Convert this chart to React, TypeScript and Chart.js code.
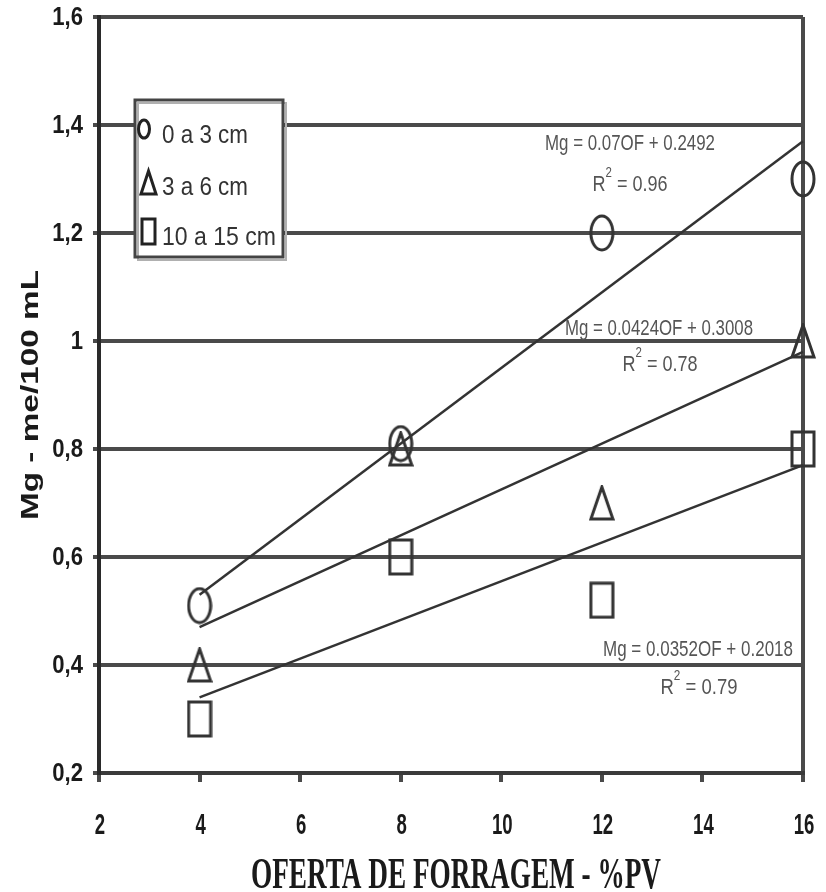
import React, { useEffect, useRef } from "react";
import { Chart, registerables } from "chart.js";

Chart.register(...registerables);

// ---- data ----
const xValues = [4, 8, 12, 16];
const series0to3 = [0.51, 0.81, 1.2, 1.3];
const series3to6 = [0.4, 0.8, 0.7, 1.0];
const series10to15 = [0.3, 0.6, 0.52, 0.8];

const trendX = [4, 16];
const trend0to3 = [0.53, 1.37];
const trend3to6 = [0.47, 0.98];
const trend10to15 = [0.34, 0.77];

const seriesLabels = ["0 a 3 cm", "3 a 6 cm", "10 a 15 cm"];
const equations = ["Mg = 0.07OF + 0.2492", "Mg = 0.0424OF + 0.3008", "Mg = 0.0352OF + 0.2018"];
const r2Values = ["0.96", "0.78", "0.79"];

const xTicks = [2, 4, 6, 8, 10, 12, 14, 16];
const xTickLabels = ["2", "4", "6", "8", "10", "12", "14", "16"];
const yTicks = [0.2, 0.4, 0.6, 0.8, 1.0, 1.2, 1.4, 1.6];
const yTickLabels = ["0,2", "0,4", "0,6", "0,8", "1", "1,2", "1,4", "1,6"];

const xTitle = "OFERTA DE FORRAGEM - %PV";
const yTitle = "Mg - me/100 mL";

// ---- helpers ----
function makeMarker(kind: string, w: number, h: number, lw: number) {
  const c = document.createElement("canvas");
  c.width = w;
  c.height = h;
  const g = c.getContext("2d")!;
  g.strokeStyle = "#333";
  g.lineWidth = lw;
  g.beginPath();
  if (kind === "circle") {
    g.ellipse(w / 2, h / 2, w / 2 - lw / 2 - 0.5, h / 2 - lw / 2 - 0.5, 0, 0, Math.PI * 2);
  } else if (kind === "triangle") {
    g.moveTo(w / 2, lw / 2 + 0.5);
    g.lineTo(w - lw / 2 - 0.5, h - lw / 2 - 0.5);
    g.lineTo(lw / 2 + 0.5, h - lw / 2 - 0.5);
    g.closePath();
  } else {
    g.rect(lw / 2 + 0.5, lw / 2 + 0.5, w - lw - 1, h - lw - 1);
  }
  g.stroke();
  return c;
}

function drawText(
  ctx: CanvasRenderingContext2D,
  text: string,
  x: number,
  y: number,
  font: string,
  color: string,
  align: CanvasTextAlign,
  baseline: CanvasTextBaseline,
  targetWidth?: number,
  scaleX?: number
) {
  ctx.save();
  ctx.font = font;
  ctx.fillStyle = color;
  ctx.textAlign = align;
  ctx.textBaseline = baseline;
  const w = ctx.measureText(text).width;
  const sx = targetWidth ? targetWidth / w : scaleX || 1;
  ctx.translate(x, y);
  ctx.scale(sx, 1);
  ctx.fillText(text, 0, 0);
  ctx.restore();
}

function drawR2(ctx: CanvasRenderingContext2D, value: string, cx: number, baseY: number, targetWidth: number) {
  ctx.save();
  const mainFont = "22px 'Liberation Sans', Arial, sans-serif";
  const supFont = "14px 'Liberation Sans', Arial, sans-serif";
  ctx.font = mainFont;
  const wR = ctx.measureText("R").width;
  const rest = " = " + value;
  const wRest = ctx.measureText(rest).width;
  ctx.font = supFont;
  const wS = ctx.measureText("2").width;
  const total = wR + wS + wRest;
  const sx = targetWidth / total;
  ctx.translate(cx - targetWidth / 2, baseY);
  ctx.scale(sx, 1);
  ctx.fillStyle = "#555";
  ctx.textAlign = "left";
  ctx.textBaseline = "alphabetic";
  ctx.font = mainFont;
  ctx.fillText("R", 0, 0);
  ctx.font = supFont;
  ctx.fillText("2", wR, -14);
  ctx.font = mainFont;
  ctx.fillText(rest, wR + wS, 0);
  ctx.restore();
}

const textPlugin = {
  id: "customText",
  afterDraw(chart: any) {
    const ctx: CanvasRenderingContext2D = chart.ctx;
    const xs = chart.scales.x;
    const ys = chart.scales.y;

    // y tick labels
    yTicks.forEach((v, i) => {
      const py = ys.getPixelForValue(v);
      drawText(ctx, yTickLabels[i], 83, py + 1, "bold 26px 'Liberation Sans', Arial, sans-serif", "#1a1a1a", "right", "middle", undefined, 0.85);
    });
    // x tick labels
    xTicks.forEach((v, i) => {
      const px = xs.getPixelForValue(v);
      drawText(ctx, xTickLabels[i], px + 1, 826, "bold 30px 'Liberation Sans', Arial, sans-serif", "#1a1a1a", "center", "middle", undefined, 0.62);
    });

    // axis titles
    drawText(ctx, xTitle, 456, 888, "bold 44px 'Liberation Serif', 'Times New Roman', serif", "#1a1a1a", "center", "alphabetic", 410);
    ctx.save();
    ctx.translate(31, 395);
    ctx.rotate(-Math.PI / 2);
    drawText(ctx, yTitle, 0, 0, "bold 24px 'Liberation Sans', Arial, sans-serif", "#1a1a1a", "center", "middle", 250);
    ctx.restore();

    // equations
    const eqFont = "22px 'Liberation Sans', Arial, sans-serif";
    drawText(ctx, equations[0], 630, 150, eqFont, "#555", "center", "alphabetic", 170);
    drawR2(ctx, r2Values[0], 630, 191, 75);
    drawText(ctx, equations[1], 659, 335, eqFont, "#555", "center", "alphabetic", 188);
    drawR2(ctx, r2Values[1], 660, 371, 75);
    drawText(ctx, equations[2], 698, 656, eqFont, "#555", "center", "alphabetic", 190);
    drawR2(ctx, r2Values[2], 699, 694, 77);

    // legend box
    ctx.save();
    ctx.fillStyle = "#fff";
    ctx.fillRect(135, 100, 148, 157);
    ctx.strokeStyle = "#b0b0b0";
    ctx.lineWidth = 2;
    ctx.strokeRect(138, 103, 148, 157);
    ctx.strokeStyle = "#444";
    ctx.lineWidth = 3;
    ctx.strokeRect(135, 100, 148, 157);

    ctx.strokeStyle = "#222";
    ctx.lineWidth = 3;
    ctx.beginPath();
    ctx.ellipse(144, 129, 5.5, 9, 0, 0, Math.PI * 2);
    ctx.stroke();
    ctx.beginPath();
    ctx.moveTo(148.5, 171);
    ctx.lineTo(156, 194);
    ctx.lineTo(141, 194);
    ctx.closePath();
    ctx.stroke();
    ctx.strokeRect(142, 219, 13, 25);
    ctx.restore();

    const legFont = "26px 'Liberation Sans', Arial, sans-serif";
    drawText(ctx, seriesLabels[0], 162, 143, legFont, "#333", "left", "alphabetic", 86);
    drawText(ctx, seriesLabels[1], 162, 195, legFont, "#333", "left", "alphabetic", 86);
    drawText(ctx, seriesLabels[2], 162, 245, legFont, "#333", "left", "alphabetic", 114);
  },
};

export default function App() {
  const canvasRef = useRef<HTMLCanvasElement | null>(null);

  useEffect(() => {
    const canvas = canvasRef.current;
    if (!canvas) return;

    const circleImg = makeMarker("circle", 26, 38, 3);
    const triImg = makeMarker("triangle", 26, 36, 3);
    const sqImg = makeMarker("square", 26, 38, 3);

    const pts = (ys: number[]) => xValues.map((x, i) => ({ x, y: ys[i] }));
    const tpts = (ys: number[]) => trendX.map((x, i) => ({ x, y: ys[i] }));

    const trendStyle = {
      type: "line" as const,
      borderColor: "#333",
      borderWidth: 2.5,
      pointRadius: 0,
      fill: false,
      clip: false as any,
    };
    const markerStyle = {
      type: "scatter" as const,
      showLine: false,
      clip: false as any,
    };

    const chart = new Chart(canvas, {
      type: "scatter",
      data: {
        datasets: [
          { ...trendStyle, label: "t1", data: tpts(trend0to3) },
          { ...trendStyle, label: "t2", data: tpts(trend3to6) },
          { ...trendStyle, label: "t3", data: tpts(trend10to15) },
          { ...markerStyle, label: seriesLabels[0], data: pts(series0to3), pointStyle: circleImg as any },
          { ...markerStyle, label: seriesLabels[1], data: pts(series3to6), pointStyle: triImg as any },
          { ...markerStyle, label: seriesLabels[2], data: pts(series10to15), pointStyle: sqImg as any },
        ] as any,
      },
      options: {
        animation: false,
        responsive: false,
        maintainAspectRatio: false,
        layout: { padding: { top: 17, right: 23, left: 0, bottom: 0 } },
        plugins: { legend: { display: false }, tooltip: { enabled: false } },
        scales: {
          x: {
            type: "linear",
            min: 2,
            max: 16,
            afterBuildTicks: (s: any) => {
              s.ticks = xTicks.map((v) => ({ value: v }));
            },
            ticks: { display: false },
            grid: {
              color: (c: any) => (c.tick && c.tick.value === 16 ? "#4a4a4a" : "rgba(0,0,0,0)"),
              lineWidth: 4,
              tickColor: "#4a4a4a",
              tickLength: 9,
              drawTicks: true,
            },
            border: { display: true, color: "#3a3a3a", width: 4 },
            afterFit: (s: any) => {
              s.height = 119;
            },
          },
          y: {
            type: "linear",
            min: 0.2,
            max: 1.6,
            afterBuildTicks: (s: any) => {
              s.ticks = yTicks.map((v) => ({ value: v }));
            },
            ticks: { display: false },
            grid: {
              color: "#4a4a4a",
              lineWidth: 4,
              tickColor: "#4a4a4a",
              tickLength: 6,
              drawTicks: true,
            },
            border: { display: true, color: "#2a2a2a", width: 4 },
            afterFit: (s: any) => {
              s.width = 99;
            },
          },
        },
      } as any,
      plugins: [textPlugin],
    });

    return () => {
      chart.destroy();
    };
  }, []);

  return (
    <div style={{ position: "absolute", left: 0, top: 0, width: 826, height: 892, background: "#fff" }}>
      <canvas ref={canvasRef} width={826} height={892} style={{ display: "block" }} />
    </div>
  );
}
